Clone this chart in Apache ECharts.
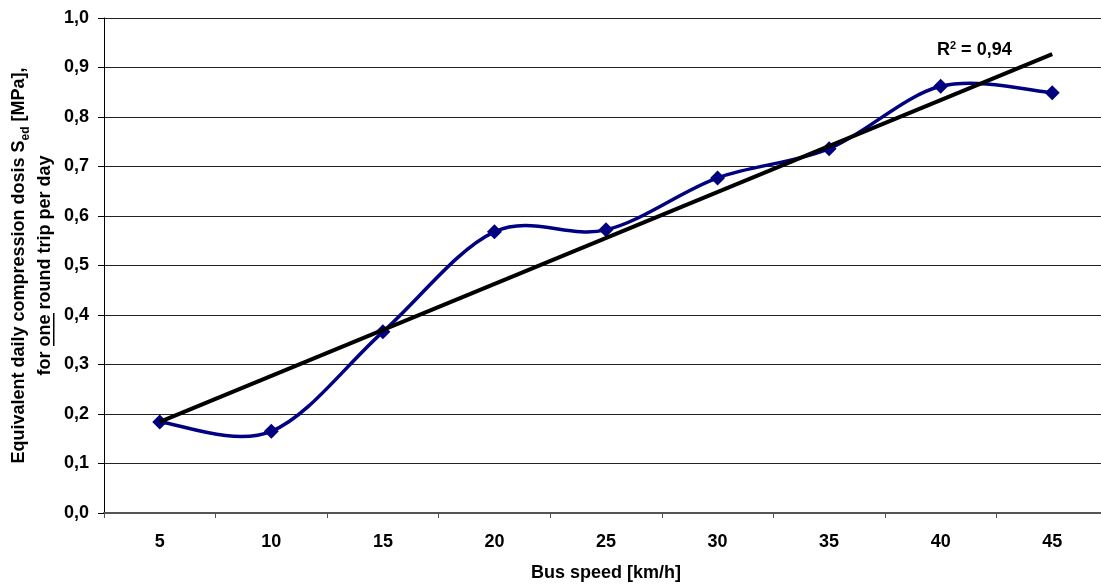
<!DOCTYPE html>
<html>
<head>
<meta charset="utf-8">
<script src="https://cdn.jsdelivr.net/npm/echarts@6/dist/echarts.min.js"></script>
<style>
  html, body { margin: 0; padding: 0; background: #fff; }
  #chart-container { width: 1101px; height: 585px; }
</style>
</head>
<body>
<div id="chart-container"></div>
<script>
// bus speed categories and measured dosis values
const speeds = ['5', '10', '15', '20', '25', '30', '35', '40', '45'];
const dosis = [0.184, 0.165, 0.366, 0.568, 0.572, 0.677, 0.736, 0.862, 0.849];
// linear trend endpoints (at 5 and 45 km/h)
const trendStart = 0.184;
const trendEnd = 0.927;
const rSquared = '0,94';

const fmt = (v) => v.toFixed(1).replace('.', ',');

// excel-like smoothed segment from point i to i+1 (catmull-rom as bezier)
function renderSmoothSegment(params, api) {
    let i = params.dataIndex;
    let n = dosis.length;
    if (i >= n - 1) {
        return null;
    }
    let p0 = api.coord([i, dosis[i]]);
    let p1 = api.coord([i + 1, dosis[i + 1]]);
    let prev = i > 0 ? api.coord([i - 1, dosis[i - 1]]) : p0;
    let next = i + 2 < n ? api.coord([i + 2, dosis[i + 2]]) : p1;
    return {
        type: 'bezierCurve',
        shape: {
            x1: p0[0], y1: p0[1],
            x2: p1[0], y2: p1[1],
            cpx1: p0[0] + (p1[0] - prev[0]) / 6,
            cpy1: p0[1] + (p1[1] - prev[1]) / 6,
            cpx2: p1[0] - (next[0] - p0[0]) / 6,
            cpy2: p1[1] - (next[1] - p0[1]) / 6
        },
        style: { stroke: '#000080', lineWidth: 3.5, fill: null }
    };
}

function createChart(containerId) {
    let dom = document.getElementById(containerId);
    let myChart = echarts.init(dom, null, { renderer: 'canvas' });
    let fontFamily = '"Liberation Sans", Arial, sans-serif';

    let option = {
        animation: false,
        textStyle: { fontFamily: fontFamily },
        grid: { left: 104, top: 18, width: 1004, height: 495, containLabel: false, outerBoundsMode: 'none' },
        xAxis: {
            type: 'category',
            data: speeds,
            boundaryGap: true,
            name: 'Bus speed [km/h]',
            nameLocation: 'middle',
            nameGap: 51,
            nameMoveOverlap: false,
            nameTextStyle: { fontSize: 18, fontWeight: 'bold', color: '#000', fontFamily: fontFamily },
            axisLine: { lineStyle: { color: '#555', width: 2 } },
            axisTick: { show: true, length: 5, lineStyle: { color: '#555' } },
            axisLabel: { margin: 20, fontSize: 18, fontWeight: 'bold', color: '#000', fontFamily: fontFamily },
            splitLine: { show: false }
        },
        yAxis: {
            type: 'value',
            min: 0,
            max: 1,
            interval: 0.1,
            name: '{t|Equivalent daily compression dosis S}{sub|ed}{t| [MPa],}\n{t|for one round trip per day}',
            nameLocation: 'middle',
            nameGap: 46,
            nameMoveOverlap: false,
            nameTextStyle: {
                color: '#000',
                align: 'center',
                rich: {
                    t: { fontSize: 18, fontWeight: 'bold', fontFamily: fontFamily, lineHeight: 26 },
                    sub: { fontSize: 12, fontWeight: 'bold', fontFamily: fontFamily, verticalAlign: 'bottom', padding: [8, 0, 0, 0], lineHeight: 26 }
                }
            },
            axisLine: { show: true, lineStyle: { color: '#000', width: 1 } },
            axisTick: { show: true, length: 6, lineStyle: { color: '#000' } },
            axisLabel: {
                margin: 15,
                fontSize: 18,
                fontWeight: 'bold',
                color: '#000',
                fontFamily: fontFamily,
                formatter: fmt
            },
            splitLine: { show: true, lineStyle: { color: '#222', width: 1 } }
        },
        series: [
            {
                name: 'Dosis curve',
                type: 'custom',
                data: dosis.map((v, i) => [i, v]),
                encode: { x: 0, y: 1 },
                renderItem: renderSmoothSegment,
                z: 2
            },
            {
                name: 'Dosis',
                type: 'scatter',
                data: dosis,
                symbol: 'diamond',
                symbolSize: 15,
                itemStyle: { color: '#000080', opacity: 1 },
                z: 3
            },
            {
                name: 'Trend',
                type: 'line',
                data: [[0, trendStart], [speeds.length - 1, trendEnd]],
                symbol: 'none',
                lineStyle: { color: '#000', width: 4 },
                z: 4
            }
        ],
        graphic: [
            {
                type: 'text',
                left: 937,
                top: 40,
                style: {
                    text: '{a|R}{s|2}{a| = ' + rSquared + '}',
                    rich: {
                        a: { fontSize: 18, fontWeight: 'bold', fontFamily: fontFamily, fill: '#000' },
                        s: { fontSize: 11, fontWeight: 'bold', fontFamily: fontFamily, fill: '#000', verticalAlign: 'top', padding: [0, 0, 10, 0] }
                    }
                }
            },
            {
                // underline under "one" in the axis name
                type: 'rect',
                left: 53,
                top: 313,
                shape: { width: 1.5, height: 33 },
                style: { fill: '#000' }
            }
        ]
    };
    myChart.setOption(option);
    window.addEventListener('resize', myChart.resize);
}

createChart('chart-container');
</script>
</body>
</html>
